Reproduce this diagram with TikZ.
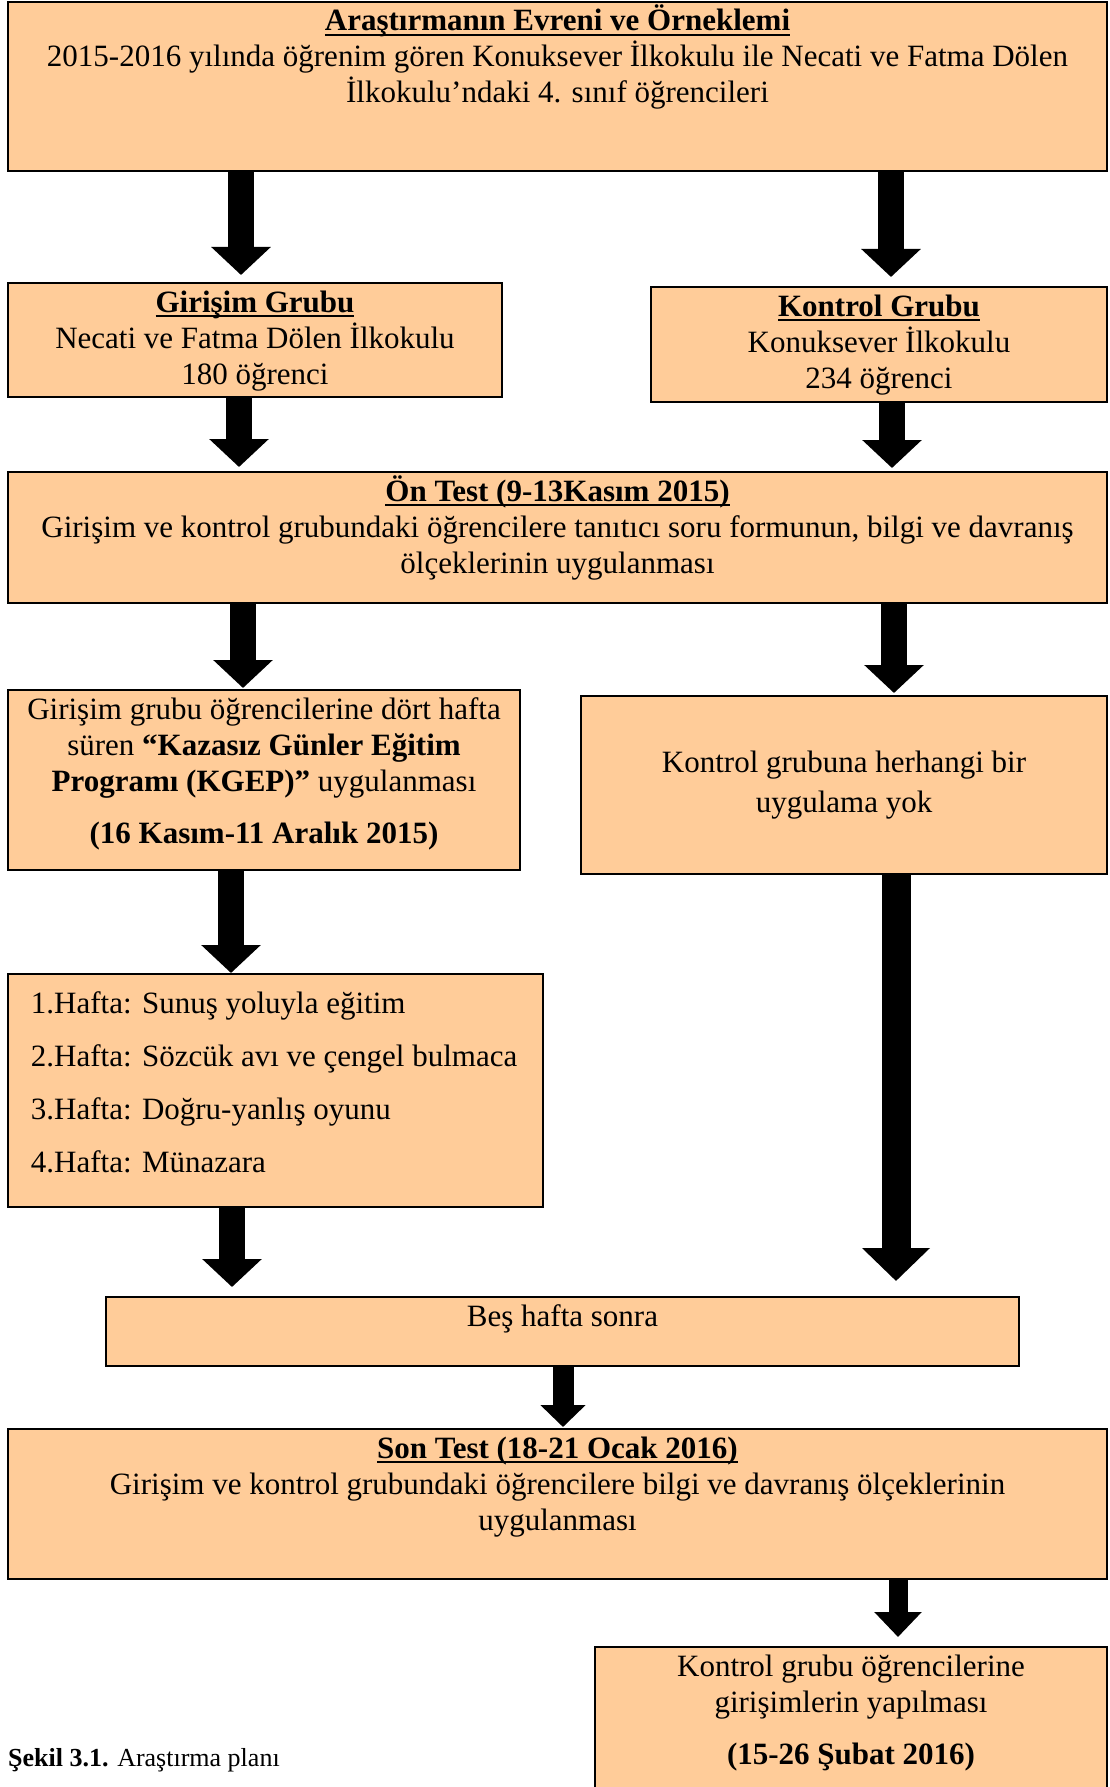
\documentclass[tikz,border=0pt]{standalone}
\usepackage{fontspec}
\setmainfont{Liberation Serif}
\usetikzlibrary{arrows.meta,positioning}
\definecolor{seftali}{HTML}{FFCC99}
\newcommand{\anayazi}{\fontsize{31}{36}\selectfont}
\newcommand{\altcizgi}[1]{\setbox0=\hbox{#1}\rlap{\rule[-5pt]{\wd0}{2.4pt}}\box0}
\newcommand{\kutuici}[3]{\parbox[c][#2][t]{#1}{\centering\rule{0pt}{29pt}#3}}
\tikzset{
	x=1pt,
	y=-1pt,
	kutu/.style={
		draw=black,
		line width=2.5pt,
		fill=seftali,
		inner sep=0pt,
		outer sep=0pt,
		anchor=north west
	},
	okblok/.style={
		line width=26pt,
		-{Triangle[length=28pt,width=58pt]}
	}
}

\begin{document}
\begin{tikzpicture}[font=\anayazi]
  \path[use as bounding box] (0,0) rectangle (1110,1787);
  \clip (0,0) rectangle (1110,1787);

  \node [kutu] (evren) at (8,2) {\kutuici{1099pt}{169pt}{%
    \textbf{\altcizgi{Araştırmanın Evreni ve Örneklemi}}\\
    2015-2016 yılında öğrenim gören Konuksever İlkokulu ile Necati ve Fatma Dölen\\
    İlkokulu’ndaki 4. sınıf öğrencileri}};
  \node [kutu] (girisim) at (8,283) {\kutuici{494pt}{114pt}{%
    \textbf{\altcizgi{Girişim Grubu}}\\
    Necati ve Fatma Dölen İlkokulu\\
    180 öğrenci}};
  \node [kutu] (kontrol) at (651,287) {\kutuici{456pt}{115pt}{%
    \textbf{\altcizgi{Kontrol Grubu}}\\
    Konuksever İlkokulu\\
    234 öğrenci}};
  \node [kutu] (ontest) at (8,472) {\kutuici{1099pt}{131pt}{%
    \textbf{\altcizgi{Ön Test (9-13Kasım 2015)}}\\
    Girişim ve kontrol grubundaki öğrencilere tanıtıcı soru formunun, bilgi ve davranış\\
    ölçeklerinin uygulanması}};
  \node [kutu] (kgep) at (8,690) {\kutuici{512pt}{180pt}{%
    Girişim grubu öğrencilerine dört hafta\\
    süren \textbf{“Kazasız Günler Eğitim}\\
    \textbf{Programı (KGEP)”} uygulanması\\[16pt]
    \textbf{(16 Kasım-11 Aralık 2015)}}};
  \node [kutu] (yok) at (581,696) {\parbox[c][178pt][c]{526pt}{\centering
    Kontrol grubuna herhangi bir\\[4pt]
    uygulama yok}};
  \node [kutu] (haftalar) at (8,974) {\parbox[c][233pt][t]{535pt}{\raggedright\leftskip=23pt
    \rule{0pt}{39pt}1.Hafta: Sunuş yoluyla eğitim\\[17pt]
    2.Hafta: Sözcük avı ve çengel bulmaca\\[17pt]
    3.Hafta: Doğru-yanlış oyunu\\[17pt]
    4.Hafta: Münazara}};
  \node [kutu] (bes) at (106,1297) {\kutuici{913pt}{69pt}{Beş hafta sonra}};
  \node [kutu] (sontest) at (8,1429) {\kutuici{1099pt}{150pt}{%
    \textbf{\altcizgi{Son Test (18-21 Ocak 2016)}}\\
    Girişim ve kontrol grubundaki öğrencilere bilgi ve davranış ölçeklerinin\\
    uygulanması}};
  \node [kutu] (mudahale) at (595,1647) {\kutuici{512pt}{170pt}{%
    Kontrol grubu öğrencilerine\\
    girişimlerin yapılması\\[16pt]
    \textbf{(15-26 Şubat 2016)}}};

  \node [anchor=west, inner sep=0pt] (baslik) at (8,1760)
    {\fontsize{26}{30}\selectfont\textbf{Şekil 3.1.} Araştırma planı};

  % oklar
  \draw [okblok] ([xshift=233pt]evren.south west) -- ([xshift=233pt,yshift=8pt]girisim.north west);
  \draw [okblok] ([xshift=883pt]evren.south west) -- ([xshift=240pt,yshift=10pt]kontrol.north west);
  \draw [okblok] ([xshift=231pt]girisim.south west) -- ([xshift=231pt,yshift=5pt]ontest.north west);
  \draw [okblok] ([xshift=241pt]kontrol.south west) -- ([xshift=884pt,yshift=4pt]ontest.north west);
  \draw [okblok] ([xshift=235pt]ontest.south west) -- ([xshift=235pt,yshift=2pt]kgep.north west);
  \draw [okblok] ([xshift=886pt]ontest.south west) -- ([xshift=313pt,yshift=3pt]yok.north west);
  \draw [okblok] ([xshift=223pt]kgep.south west) -- ([xshift=223pt,yshift=1pt]haftalar.north west);
  \draw [okblok, line width=29pt, -{Triangle[length=33pt,width=66pt]}]
    ([xshift=315pt]yok.south west) -- ([xshift=790pt,yshift=16pt]bes.north west);
  \draw [okblok] ([xshift=224pt]haftalar.south west) -- ([xshift=126pt,yshift=10pt]bes.north west);
  \draw [okblok, line width=21pt, -{Triangle[length=22pt,width=44pt]}]
    ([xshift=457pt]bes.south west) -- ([xshift=555pt,yshift=2pt]sontest.north west);
  \draw [okblok, line width=19pt, -{Triangle[length=25pt,width=46pt]}]
    ([xshift=890pt]sontest.south west) -- ([xshift=303pt,yshift=10pt]mudahale.north west);
\end{tikzpicture}
\end{document}
